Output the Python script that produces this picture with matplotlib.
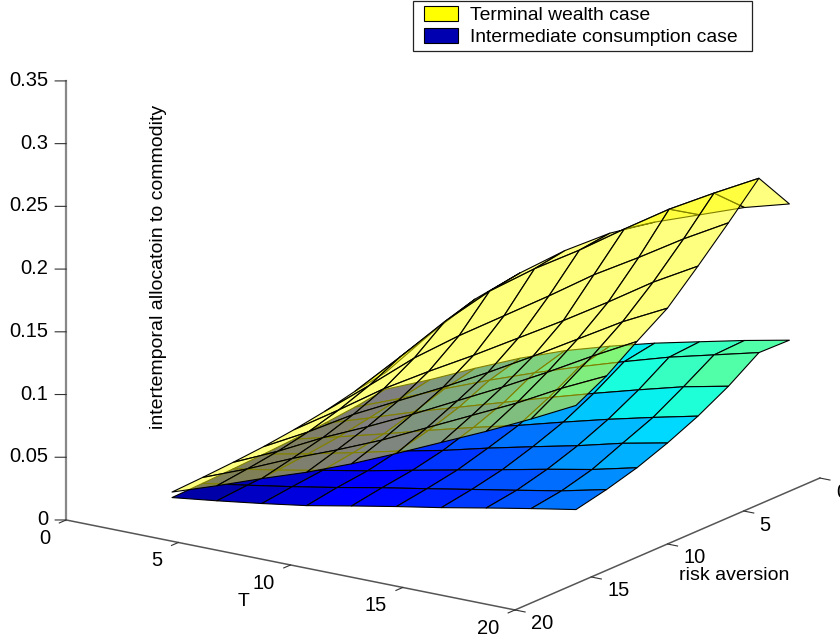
import numpy as np
import matplotlib
matplotlib.use('Agg')
import matplotlib.pyplot as plt
from matplotlib.colors import Normalize
from matplotlib.patches import Patch, Rectangle
from mpl_toolkits.mplot3d import proj3d

plt.rcParams['font.family'] = ['Liberation Sans', 'DejaVu Sans']

# rows go with T, columns with risk aversion
t_grid = [20, 18, 16, 14, 12, 10, 8, 6, 4, 2]
ra_grid = [2, 4, 6, 8, 10, 12, 14, 16]

terminal_wealth = [
    [.229, .260, .235, .211, .188, .172, .155, .142],
    [.219, .241, .215, .191, .170, .153, .138, .124],
    [.206, .221, .193, .168, .149, .133, .119, .107],
    [.193, .198, .172, .146, .128, .114, .102, .091],
    [.177, .174, .148, .125, .108, .096, .085, .075],
    [.156, .152, .125, .104, .089, .078, .068, .0596],
    [.131, .127, .102, .084, .071, .061, .053, .0457],
    [.103, .0955, .077, .063, .053, .045, .039, .0335],
    [.068, .060, .048, .039, .032, .027, .0235, .0206],
    [.030, .0256, .020, .016, .013, .011, .0095, .0084],
]
intermediate_consumption = [
    [.1204, .121, .1047, .0914, .0805, .0713, .0644, .059],
    [.113, .112, .0971, .0832, .0731, .0627, .0562, .0526],
    [.1048, .103, .0875, .0745, .064, .0557, .0495, .0459],
    [.0965, .0923, .0775, .0651, .056, .0482, .043, .039],
    [.0869, .081, .067, .0553, .0477, .0408, .0364, .0327],
    [.0762, .069, .056, .0465, .0387, .0334, .030, .026],
    [.063, .056, .045, .037, .031, .0258, .023, .0191],
    [.0478, .042, .034, .027, .0225, .019, .0165, .0136],
    [.0316, .027, .022, .0175, .0145, .012, .0105, .0086],
    [.0167, .013, .0105, .0085, .007, .0058, .0048, .004],
]

t_ticks = [0, 5, 10, 15, 20]
ra_ticks = [0, 5, 10, 15, 20]
z_ticks = [0, 0.05, 0.1, 0.15, 0.2, 0.25, 0.3, 0.35]
z_labels = ['0', '0.05', '0.1', '0.15', '0.2', '0.25', '0.3', '0.35']

W, H = 840, 638
TICK_FONT = 14.5
LABEL_FONT = 14
side = 868
fig = plt.figure(figsize=(W / 100, H / 100), dpi=100)
ax = fig.add_axes([-2.7 / W, -87.2 / H, side / W, side / H],
                  projection='3d', proj_type='ortho', computed_zorder=False)
ax.set_axis_off()
ax.view_init(elev=17.13, azim=-55.76)
ax.set_box_aspect((542.9, 541.8, 459.4))
ax.set_xlim(0, 20)
ax.set_ylim(20, 0)
ax.set_zlim(0, 0.35)

X, Y = np.meshgrid(t_grid, ra_grid, indexing='ij')
wealth = np.array(terminal_wealth)
consumption = np.array(intermediate_consumption)

colours = plt.cm.jet(Normalize(0, 0.27)(consumption))
ax.plot_surface(X, Y, consumption, facecolors=colours, edgecolor='k', linewidth=0.8,
                rstride=1, cstride=1, shade=False, zorder=1)
ax.plot_surface(X, Y, wealth, color=(1, 1, 0, 0.5), edgecolor='k', linewidth=0.8,
                rstride=1, cstride=1, shade=False, zorder=2)

# axes lines, only the three MATLAB kept
ax.plot([0, 20], [20, 20], [0, 0], color='#555555', lw=1.1, zorder=3)
ax.plot([20, 20], [20, 0], [0, 0], color='#555555', lw=1.1, zorder=3)
ax.plot([0, 0], [20, 20], [0, 0.35], color='#888888', lw=1.6, zorder=3)


def label_at(text, t, ra, z, dx, dy, ha):
    x2, y2, _ = proj3d.proj_transform(t, ra, z, ax.get_proj())
    ax.annotate(text, (x2, y2), xytext=(dx, dy), textcoords='offset pixels',
                ha=ha, va='center', fontsize=TICK_FONT, annotation_clip=False)


for t in t_ticks:
    ax.plot([t, t], [20, 20.45], [0, 0], color='#333333', lw=0.8, zorder=3)
    label_at(str(t), t, 20, 0, -16, -18.5, 'right')
for ra in ra_ticks:
    ax.plot([20, 20.45], [ra, ra], [0, 0], color='#333333', lw=0.8, zorder=3)
    label_at(str(ra), 20, ra, 0, 16, -14, 'left')
for z, lab in zip(z_ticks, z_labels):
    ax.plot([0, -0.335], [20, 20.228], [z, z], color='#333333', lw=0.8, zorder=3)
    label_at(lab, 0, 20, z, -18, 0.5, 'right')

fig.text(244 / W, 1 - 601 / H, 'T', ha='center', va='center', fontsize=LABEL_FONT)
fig.text(734 / W, 1 - 576 / H, 'risk aversion', ha='center', va='center', fontsize=LABEL_FONT)
fig.text(158.5 / W, 1 - 267 / H, 'intertemporal allocatoin to commodity', rotation=90,
         ha='center', va='center', fontsize=LABEL_FONT)

# legend box is drawn apart, the reference has more room at the sides than above
fig.add_artist(Rectangle((413 / W, 1 - 51 / H), 339 / W, 50 / H, transform=fig.transFigure,
                         facecolor='white', edgecolor='#222222', lw=0.9))
handles = [Patch(facecolor='#ffff00', edgecolor='k', lw=0.8),
           Patch(facecolor='#0000b0', edgecolor='k', lw=0.8)]
fig.legend(handles, ['Terminal wealth case', 'Intermediate consumption case'],
           loc='upper left', bbox_to_anchor=(424 / W, 1 - 6 / H), borderaxespad=0,
           fontsize=13.9, frameon=False, borderpad=0,
           handlelength=1.77, handleheight=0.85, handletextpad=0.62,
           labelspacing=0.17)

fig.savefig('out.png', dpi=100)
